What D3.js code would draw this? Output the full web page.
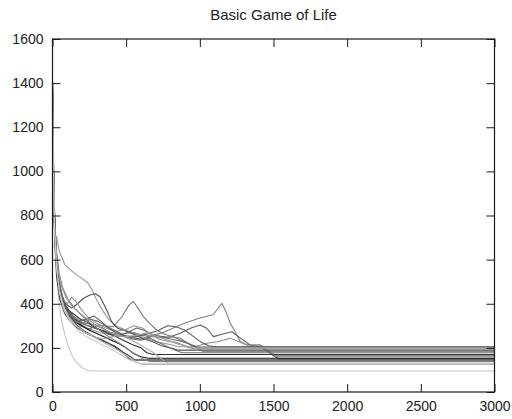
<!DOCTYPE html>
<html>
<head>
<meta charset="utf-8">
<script src="https://cdn.jsdelivr.net/npm/d3@7"></script>
<style>
  html, body { margin: 0; padding: 0; background: #fff; }
  svg { display: block; }
  text { font-family: "Liberation Sans", Arial, Helvetica, sans-serif; fill: #222; }
</style>
</head>
<body>
<svg id="chart" width="512" height="419"></svg>
<script>
// Population of live cells over generations, one run per series.
const title = "Basic Game of Life";
const xTicks = [0, 500, 1000, 1500, 2000, 2500, 3000];
const yTicks = [0, 200, 400, 600, 800, 1000, 1200, 1400, 1600];

const run01 = [[0,1380],[8,900],[20,620],[40,430],[60,330],[80,270],[100,220],[130,170],[160,135],[200,110],[240,97],[260,95],[3000,95]];
const run02 = [[0,1320],[6,1000],[15,760],[30,580],[55,460],[90,390],[140,340],[200,310],[280,290],[360,275],[450,262],[550,270],[650,250],[750,270],[820,290],[900,313],[1000,335],[1090,350],[1150,402],[1180,360],[1206,313],[1240,272],[1275,228],[1320,213],[1410,213],[1475,178],[1530,160],[3000,160]];
const run03 = [[0,1400],[5,1150],[12,850],[25,640],[45,500],[70,420],[110,360],[170,320],[240,300],[330,280],[420,262],[500,250],[600,240],[700,255],[790,248],[866,266],[940,290],[1002,304],[1047,289],[1092,251],[1150,262],[1217,273],[1262,251],[1341,213],[1409,205],[1470,180],[1511,160],[1540,150],[3000,150]];
const run04 = [[0,1350],[7,1000],[18,720],[35,540],[60,440],[100,370],[160,320],[230,290],[320,270],[420,255],[520,250],[620,262],[720,245],[800,250],[866,245],[955,205],[1000,212],[1047,221],[1120,228],[1205,244],[1260,230],[1319,213],[1410,213],[1488,175],[1522,165],[3000,165]];
const run05 = [[0,1420],[5,1000],[12,780],[20,690],[28,704],[45,640],[85,576],[120,555],[164,531],[200,515],[243,493],[270,460],[300,417],[340,370],[380,330],[430,300],[500,280],[580,260],[650,240],[720,225],[800,215],[850,205],[3000,205]];
const run06 = [[0,1300],[6,980],[15,740],[30,560],[55,450],[90,390],[140,345],[200,315],[280,305],[350,300],[413,296],[470,340],[520,395],[549,410],[580,380],[617,342],[660,310],[707,281],[760,262],[820,250],[880,232],[940,215],[1000,200],[3000,200]];
const run07 = [[0,1380],[5,1050],[12,800],[25,600],[40,500],[60,440],[90,400],[130,380],[170,400],[210,425],[255,440],[290,445],[323,432],[368,372],[400,320],[440,290],[500,275],[560,260],[620,240],[680,228],[740,210],[800,200],[850,190],[3000,190]];
const run08 = [[0,1360],[6,950],[14,700],[28,520],[50,420],[80,360],[120,320],[170,290],[230,265],[300,245],[360,225],[420,210],[480,180],[530,160],[560,145],[3000,145]];
const run09 = [[0,1410],[5,1080],[10,860],[22,640],[40,490],[65,410],[100,360],[140,330],[190,300],[250,285],[300,300],[340,290],[400,265],[450,255],[510,270],[570,290],[620,280],[680,260],[740,250],[800,240],[860,232],[920,220],[980,200],[1020,185],[3000,185]];
const run10 = [[0,1290],[7,960],[16,720],[30,560],[50,460],[80,400],[110,370],[150,350],[190,330],[230,320],[270,300],[310,285],[360,270],[420,255],[480,235],[540,215],[600,200],[640,178],[680,170],[3000,170]];
const run11 = [[0,1340],[6,1000],[14,760],[28,580],[45,480],[70,420],[100,400],[130,430],[160,410],[200,370],[240,340],[280,320],[330,300],[380,285],[430,275],[490,280],[550,300],[610,290],[670,260],[720,240],[780,230],[840,225],[900,210],[960,195],[3000,195]];
const run12 = [[0,1400],[4,1150],[10,880],[20,680],[35,540],[55,450],[85,380],[120,340],[160,315],[200,300],[250,280],[300,265],[350,250],[400,235],[450,220],[500,200],[550,175],[600,160],[650,153],[3000,153]];
const run13 = [[0,1320],[6,990],[14,740],[28,560],[48,460],[75,400],[110,350],[150,320],[200,310],[260,330],[310,320],[360,300],[420,280],[480,260],[540,240],[600,235],[660,245],[720,225],[780,205],[830,190],[880,178],[3000,178]];
const run14 = [[0,1370],[5,1030],[12,780],[24,600],[42,480],[65,410],[95,360],[130,330],[170,300],[220,275],[270,255],[320,240],[370,225],[420,205],[460,185],[500,165],[530,145],[3000,145]];
const run15 = [[0,1310],[6,970],[15,730],[30,560],[50,450],[80,380],[120,330],[170,295],[220,270],[280,250],[340,240],[400,250],[460,260],[520,240],[580,220],[630,200],[680,180],[720,160],[760,140],[790,130],[3000,130]];
const run16 = [[0,1390],[5,1060],[12,820],[25,650],[45,540],[70,470],[105,420],[150,380],[210,340],[260,310],[310,285],[360,260],[420,235],[480,210],[530,185],[580,165],[620,148],[660,138],[3000,138]];
const run17 = [[0,1350],[6,1010],[14,760],[28,570],[48,460],[75,390],[110,340],[160,300],[220,270],[290,245],[360,220],[430,195],[490,170],[540,150],[580,132],[610,125],[3000,125]];
const run18 = [[0,1420],[5,1080],[12,820],[25,630],[45,500],[70,420],[100,370],[140,335],[180,320],[230,330],[280,345],[330,320],[380,290],[430,270],[490,255],[560,250],[640,262],[720,280],[780,300],[840,296],[900,280],[960,250],[1010,225],[1060,210],[1110,205],[3000,205]];
const run19 = [[0,1300],[7,950],[16,720],[32,580],[55,490],[90,430],[130,390],[180,360],[240,330],[300,300],[360,280],[420,262],[480,250],[560,255],[640,268],[700,255],[760,240],[820,225],[880,212],[930,200],[3000,200]];
const run20 = [[0,1380],[6,1000],[14,740],[28,560],[48,450],[80,370],[120,320],[170,280],[230,250],[290,230],[350,210],[410,190],[460,170],[510,150],[560,135],[600,130],[3000,130]];

const runs = [run01, run02, run03, run04, run05, run06, run07, run08, run09, run10,
              run11, run12, run13, run14, run15, run16, run17, run18, run19, run20];
const runColors = ["#c4c4c4", "#808080", "#5e5e5e", "#8e8e8e", "#969696", "#767676", "#505050", "#404040", "#666666", "#333333",
                   "#929292", "#111111", "#707070", "#4c4c4c", "#a8a8a8", "#7e7e7e", "#b8b8b8", "#5c5c5c", "#9c9c9c", "#cacaca"];

const svg = d3.select("#chart");
const margin = { left: 52.5, right: 512 - 494.5, top: 39, bottom: 419 - 392 };
const width = 512 - margin.left - margin.right;
const height = 419 - margin.top - margin.bottom;

const x = d3.scaleLinear().domain([0, 3000]).range([margin.left, margin.left + width]);
const y = d3.scaleLinear().domain([0, 1600]).range([margin.top + height, margin.top]);

// Series lines
const line = d3.line().x(d => x(d[0])).y(d => y(d[1]));
svg.append("g")
  .selectAll("path")
  .data(runs)
  .join("path")
  .attr("d", line)
  .attr("fill", "none")
  .attr("stroke", (d, i) => runColors[i])
  .attr("stroke-width", 1.1)
  .attr("stroke-linejoin", "round");

// Frame with inward ticks on all four sides
const tickLen = 8;
const axisColor = "#1a1a1a";
const axisFont = 14;

svg.append("g")
  .attr("transform", `translate(0,${y(0)})`)
  .call(d3.axisBottom(x).tickValues(xTicks).tickSizeInner(-tickLen).tickSizeOuter(0).tickPadding(9).tickFormat(d3.format("d")))
  .call(g => g.select(".domain").remove())
  .call(g => g.selectAll("text").attr("font-size", axisFont))
  .call(g => g.selectAll("line").attr("stroke", axisColor));

svg.append("g")
  .attr("transform", `translate(0,${y(1600)})`)
  .call(d3.axisTop(x).tickValues(xTicks).tickSizeInner(-tickLen).tickSizeOuter(0).tickFormat(""))
  .call(g => g.select(".domain").remove())
  .call(g => g.selectAll("line").attr("stroke", axisColor));

svg.append("g")
  .attr("transform", `translate(${x(0)},0)`)
  .call(d3.axisLeft(y).tickValues(yTicks).tickSizeInner(-tickLen).tickSizeOuter(0).tickPadding(9).tickFormat(d3.format("d")))
  .call(g => g.select(".domain").remove())
  .call(g => g.selectAll("text").attr("font-size", axisFont))
  .call(g => g.selectAll("line").attr("stroke", axisColor));

svg.append("g")
  .attr("transform", `translate(${x(3000)},0)`)
  .call(d3.axisRight(y).tickValues(yTicks).tickSizeInner(-tickLen).tickSizeOuter(0).tickFormat(""))
  .call(g => g.select(".domain").remove())
  .call(g => g.selectAll("line").attr("stroke", axisColor));

svg.selectAll(".tick text").attr("fill", "#222").attr("font-family", "'Liberation Sans', Arial, sans-serif");

svg.append("rect")
  .attr("x", x(0)).attr("y", y(1600))
  .attr("width", x(3000) - x(0)).attr("height", y(0) - y(1600))
  .attr("fill", "none").attr("stroke", axisColor).attr("stroke-width", 1.2);

// Title
svg.append("text")
  .attr("x", (x(0) + x(3000)) / 2)
  .attr("y", 20)
  .attr("text-anchor", "middle")
  .attr("font-size", 15)
  .text(title);
</script>
</body>
</html>
